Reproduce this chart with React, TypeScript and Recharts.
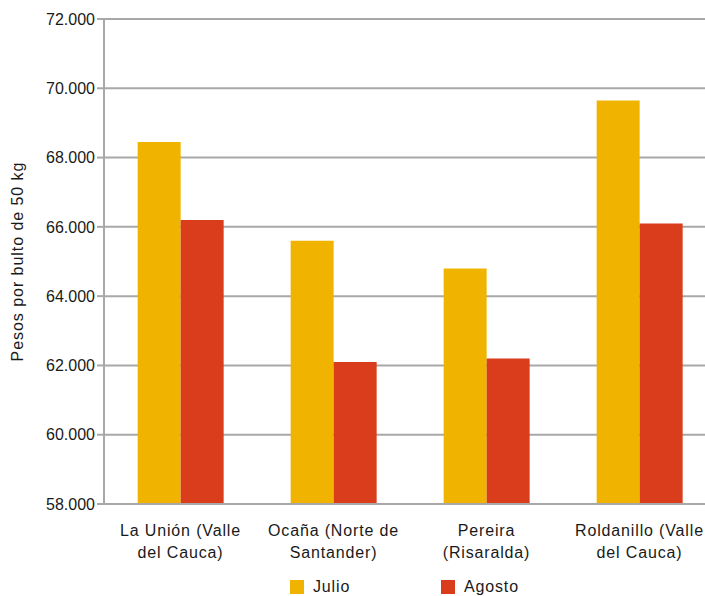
import React from 'react';
import { Bar, BarChart, CartesianGrid, Legend, XAxis, YAxis } from 'recharts';

const categories = [
  'La Unión (Valle\ndel Cauca)',
  'Ocaña (Norte de\nSantander)',
  'Pereira\n(Risaralda)',
  'Roldanillo (Valle\ndel Cauca)',
];
const julio = [68450, 65600, 64800, 69650];
const agosto = [66200, 62100, 62200, 66100];
const yTicks = [58000, 60000, 62000, 64000, 66000, 68000, 70000, 72000];

const data = categories.map((name, i) => ({ name, julio: julio[i], agosto: agosto[i] }));

const FONT = '"Liberation Sans", Arial, sans-serif';
const YELLOW = '#F0B400';
const RED = '#DA3D1C';
const GRID = '#A8A8A8';

const fmt = (v: number) => v.toLocaleString('de-DE');

function XTick(props: any) {
  const { x, y, payload } = props;
  const lines = String(payload.value).split('\n');
  return (
    <text x={x} y={y} textAnchor="middle" fontFamily={FONT} fontSize={16} letterSpacing={0.85} fill="#1a1a1a">
      {lines.map((l, i) => (
        <tspan key={i} x={x} dy={i === 0 ? 24 : 22}>
          {l}
        </tspan>
      ))}
    </text>
  );
}

function LegendBox() {
  const item = (left: number, color: string, label: string) => (
    <div style={{ position: 'absolute', left, top: 0, height: 20, display: 'flex', alignItems: 'center' }}>
      <div style={{ width: 14, height: 14, background: color, marginRight: 9 }} />
      <span style={{ fontFamily: FONT, fontSize: 16, letterSpacing: 0.85, color: '#1a1a1a' }}>{label}</span>
    </div>
  );
  return (
    <div style={{ position: 'relative', height: 20 }}>
      {item(290, YELLOW, 'Julio')}
      {item(441, RED, 'Agosto')}
    </div>
  );
}

export default function App() {
  return (
    <div style={{ position: 'absolute', left: 0, top: 0, width: 705, height: 596, overflow: 'hidden', background: '#fff' }}>
      <BarChart
        width={730}
        height={596}
        data={data}
        margin={{ top: 19, right: 14, left: 0, bottom: 0 }}
        barCategoryGap="22%"
        barGap={0}
      >
        <CartesianGrid vertical={false} stroke={GRID} strokeWidth={2} />
        <XAxis
          dataKey="name"
          height={72}
          tick={<XTick />}
          tickLine={false}
          axisLine={{ stroke: GRID, strokeWidth: 2 }}
          interval={0}
        />
        <YAxis
          width={104}
          domain={[58000, 72000]}
          ticks={yTicks}
          tickFormatter={fmt}
          tick={{ fontFamily: FONT, fontSize: 16, fill: '#1a1a1a' }}
          tickLine={{ stroke: GRID, strokeWidth: 2 }}
          tickSize={7}
          axisLine={{ stroke: GRID, strokeWidth: 2 }}
          allowDataOverflow
          label={{
            value: 'Pesos por bulto de 50 kg',
            angle: -90,
            position: 'insideLeft',
            offset: 0,
            dx: 17,
            style: { fontFamily: FONT, fontSize: 16, letterSpacing: 0.95, fill: '#1a1a1a', textAnchor: 'middle' },
          }}
        />
        <Legend
          content={<LegendBox />}
          wrapperStyle={{ position: 'absolute', left: 0, top: 577, width: 705, height: 20 }}
        />
        <Bar dataKey="julio" name="Julio" fill={YELLOW} isAnimationActive={false} />
        <Bar dataKey="agosto" name="Agosto" fill={RED} isAnimationActive={false} />
      </BarChart>
    </div>
  );
}
